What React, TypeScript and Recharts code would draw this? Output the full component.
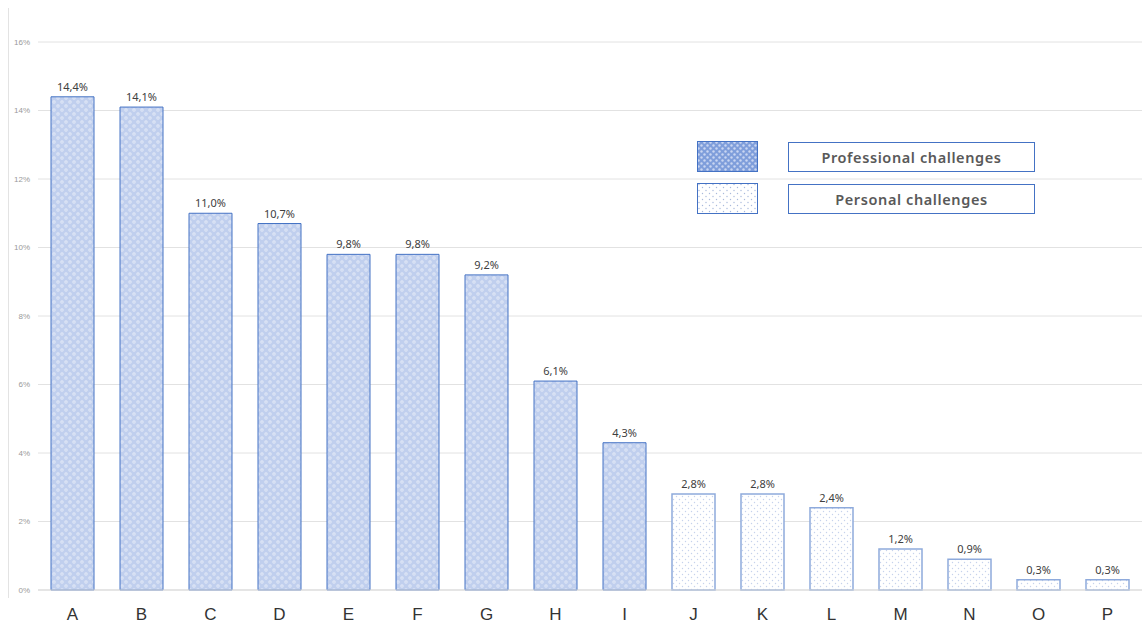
import React from "react";
import {
  BarChart,
  Bar,
  XAxis,
  YAxis,
  CartesianGrid,
  Cell,
  LabelList,
  Legend,
} from "recharts";

const categories = ["A", "B", "C", "D", "E", "F", "G", "H", "I", "J", "K", "L", "M", "N", "O", "P"];
const shares = [14.4, 14.1, 11.0, 10.7, 9.8, 9.8, 9.2, 6.1, 4.3, 2.8, 2.8, 2.4, 1.2, 0.9, 0.3, 0.3];
const groups = ["pro", "pro", "pro", "pro", "pro", "pro", "pro", "pro", "pro", "per", "per", "per", "per", "per", "per", "per"];
const yTicks = [0, 2, 4, 6, 8, 10, 12, 14, 16];
const legendItems = [
  { key: "pro", label: "Professional challenges" },
  { key: "per", label: "Personal challenges" },
];

const data = categories.map((c, i) => ({ name: c, value: shares[i], group: groups[i] }));

const fmtPct = (v: number) => `${v.toFixed(1).replace(".", ",")}%`;

const LegendBoxes = () => (
  <div style={{ width: 340 }}>
    {legendItems.map((item, i) => (
      <div key={item.key} style={{ display: "flex", alignItems: "center", marginBottom: i === 0 ? 11 : 0 }}>
        <svg width={61} height={31} style={{ display: "block" }}>
          <rect
            x={0.5}
            y={0.5}
            width={60}
            height={30}
            fill={item.key === "pro" ? "url(#legendPro)" : "url(#legendPer)"}
            stroke="#4472c4"
            strokeWidth={1}
          />
        </svg>
        <div
          style={{
            marginLeft: 30,
            width: 245,
            height: 28,
            border: "1.5px solid #4472c4",
            display: "flex",
            alignItems: "center",
            justifyContent: "center",
            fontFamily: "'Noto Sans', sans-serif",
            fontWeight: 600,
            fontSize: 14.5,
            letterSpacing: 0.6,
            color: "#595959",
            boxSizing: "content-box",
          }}
        >
          {item.label}
        </div>
      </div>
    ))}
  </div>
);

export default function App() {
  return (
    <div style={{ position: "absolute", left: 0, top: 0, width: 1142, height: 623, background: "#fff" }}>
      <div
        style={{
          position: "absolute",
          left: 8,
          top: 8,
          width: 1,
          height: 590,
          background: "#e3e3e3",
        }}
      />
      <BarChart
        width={1142}
        height={623}
        data={data}
        margin={{ top: 42, right: 0, bottom: 0, left: 0 }}
        barSize={43}
      >
        <defs>
          <pattern id="proPat" width="8" height="8" patternUnits="userSpaceOnUse">
            <rect width="8" height="8" fill="#c0cfee" />
            <circle cx="2" cy="2" r="1.7" fill="#e2e9f7" />
            <circle cx="6" cy="6" r="1.7" fill="#e2e9f7" />
            <circle cx="2" cy="2" r="0.6" fill="#adc0e8" />
            <circle cx="6" cy="6" r="0.6" fill="#adc0e8" />
          </pattern>
          <pattern id="perPat" width="6" height="6" patternUnits="userSpaceOnUse">
            <rect width="6" height="6" fill="#ffffff" />
            <circle cx="1.5" cy="1.5" r="0.7" fill="#c6d2ec" />
            <circle cx="4.5" cy="4.5" r="0.7" fill="#c6d2ec" />
          </pattern>
        </defs>
        <CartesianGrid vertical={false} stroke="#e2e2e2" />
        <XAxis
          dataKey="name"
          axisLine={{ stroke: "#d9d9d9" }}
          tickLine={false}
          height={33}
          tickMargin={12}
          tick={{ fontFamily: "'Liberation Sans', Arial, sans-serif", fontSize: 17, fill: "#333333" }}
          interval={0}
        />
        <YAxis
          width={38}
          domain={[0, 16]}
          ticks={yTicks}
          tickFormatter={(v: number) => `${v}%`}
          axisLine={false}
          tickLine={false}
          tick={{ fontFamily: "'Liberation Sans', Arial, sans-serif", fontSize: 8, fill: "#9a9a9a" }}
        />
        <Legend
          layout="vertical"
          align="center"
          verticalAlign="middle"
          content={() => (
            <div>
              <svg width={0} height={0} style={{ position: "absolute" }}>
                <defs>
                  <pattern id="legendPro" width="6" height="6" patternUnits="userSpaceOnUse">
                    <rect width="6" height="6" fill="#7f9edb" />
                    <circle cx="1.5" cy="1.5" r="1.2" fill="#c9d6f2" />
                    <circle cx="4.5" cy="4.5" r="1.2" fill="#c9d6f2" />
                  </pattern>
                  <pattern id="legendPer" width="7" height="6" patternUnits="userSpaceOnUse">
                    <rect width="7" height="6" fill="#ffffff" />
                    <circle cx="2" cy="1.5" r="0.7" fill="#a9b9dc" />
                    <circle cx="5.5" cy="4.5" r="0.7" fill="#a9b9dc" />
                  </pattern>
                </defs>
              </svg>
              <LegendBoxes />
            </div>
          )}
          wrapperStyle={{ left: 697, top: 141, width: 345, bottom: "auto", right: "auto" }}
        />
        <Bar dataKey="value" isAnimationActive={false}>
          {data.map((d) => (
            <Cell
              key={d.name}
              fill={d.group === "pro" ? "url(#proPat)" : "url(#perPat)"}
              stroke={d.group === "pro" ? "#4472c4" : "#8eaadc"}
              strokeWidth={d.group === "pro" ? 1 : 1.5}
            />
          ))}
          <LabelList
            dataKey="value"
            position="top"
            offset={6}
            formatter={(v: number) => fmtPct(v)}
            style={{ fontFamily: "'Noto Sans', sans-serif", fontSize: 11, fill: "#404040" }}
          />
        </Bar>
      </BarChart>
    </div>
  );
}
